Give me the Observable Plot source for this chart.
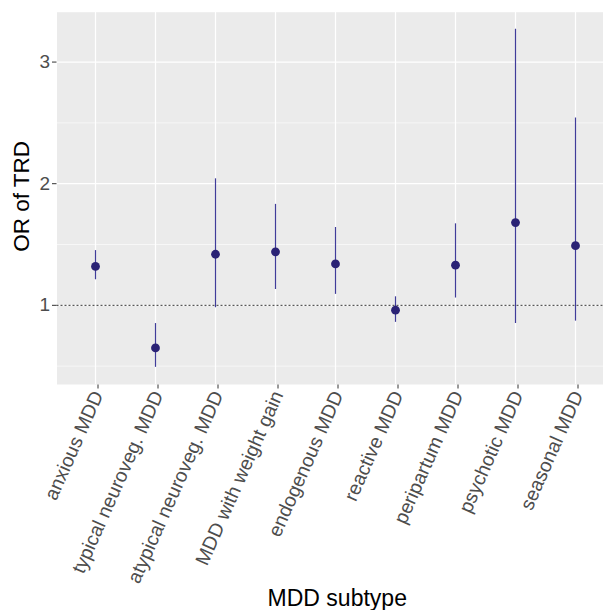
<!DOCTYPE html>
<html><head><meta charset="utf-8">
<script src="https://cdn.jsdelivr.net/npm/d3@7"></script>
<script src="https://cdn.jsdelivr.net/npm/@observablehq/plot@0.6"></script>
<style>html,body{margin:0;padding:0;background:#fff;overflow:hidden}</style>
</head><body><div id="chart"></div>
<script>
const subtypes = ["anxious MDD","typical neuroveg. MDD","atypical neuroveg. MDD","MDD with weight gain","endogenous MDD","reactive MDD","peripartum MDD","psychotic MDD","seasonal MDD"];
const orValues = [1.32, 0.65, 1.42, 1.44, 1.34, 0.96, 1.33, 1.68, 1.49];
const ciLower  = [1.21, 0.49, 0.98, 1.13, 1.09, 0.86, 1.06, 0.85, 0.87];
const ciUpper  = [1.45, 0.85, 2.04, 1.83, 1.64, 1.07, 1.67, 3.27, 2.54];
const yTicks = [1, 2, 3];
const yMinorTicks = [0.5, 1.5, 2.5];
const refLine = [1];
const yTitle = "OR of TRD";
const xTitle = "MDD subtype";

const data = subtypes.map((s, i) => ({subtype: s, or: orValues[i], lo: ciLower[i], hi: ciUpper[i]}));

const chart = Plot.plot({
  width: 603, height: 610,
  marginLeft: 56.5, marginRight: 0, marginTop: 11.7, marginBottom: 226,
  style: {fontFamily: "'Liberation Sans', Arial, sans-serif", fontSize: "18px", background: "white", overflow: "visible"},
  x: {type: "point", domain: subtypes, range: [92.7, 577.5], padding: 0, label: null},
  y: {domain: [0.349, 3.41], label: null},
  marks: [
    Plot.frame({fill: "#EBEBEB", stroke: null}),
    Plot.gridY(yMinorTicks, {stroke: "white", strokeOpacity: 1, strokeWidth: 0.6}),
    Plot.gridY(yTicks, {stroke: "white", strokeOpacity: 1, strokeWidth: 1.2}),
    Plot.gridX(subtypes, {stroke: "white", strokeOpacity: 1, strokeWidth: 1.2}),
    Plot.ruleY(refLine, {stroke: "#333333", strokeDasharray: "2,2", strokeWidth: 1}),
    Plot.ruleX(data, {x: "subtype", y1: "lo", y2: "hi", stroke: "#403C9A", strokeWidth: 1.2}),
    Plot.dot(data, {x: "subtype", y: "or", r: 4.4, fill: "#2A2275", stroke: null}),
    Plot.axisY(yTicks, {tickSize: 4.5, tickPadding: 2.5, fontSize: 19, tickFormat: d => String(d), fill: "#4D4D4D", stroke: "#333333", label: null}),
    Plot.axisX(subtypes, {tickSize: 4, tickPadding: 3, tickRotate: -66, fontSize: 19.5, dx: 2.5, dy: 0.5, fill: "#4D4D4D", stroke: "#333333", label: null}),
    Plot.text([yTitle], {text: d => d, frameAnchor: "left", rotate: -90, dx: -28.2, dy: -2, fontSize: 22.5, fill: "black", textAnchor: "middle", lineAnchor: "bottom"}),
    Plot.text([xTitle], {text: d => d, frameAnchor: "bottom", dx: 7, dy: 221, fontSize: 23, fill: "black", textAnchor: "middle", lineAnchor: "bottom"})
  ]
});
document.getElementById("chart").appendChild(chart);
</script>
</body></html>
